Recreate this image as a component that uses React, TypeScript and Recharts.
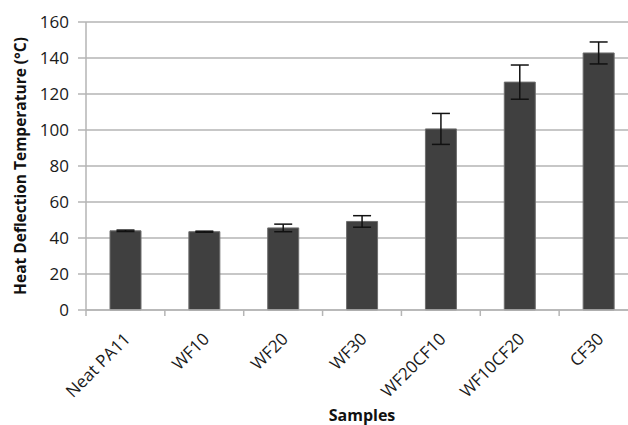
import React from 'react';
import { BarChart, Bar, XAxis, YAxis, CartesianGrid, ErrorBar } from 'recharts';

// Heat deflection temperature per sample, with standard deviation
const samples = ['Neat PA11', 'WF10', 'WF20', 'WF30', 'WF20CF10', 'WF10CF20', 'CF30'];
const hdt = [44, 43.5, 45.6, 49.2, 100.6, 126.6, 142.8];
const hdtError = [0.4, 0.3, 2.1, 3.2, 8.6, 9.5, 6.1];
const yTicks = [0, 20, 40, 60, 80, 100, 120, 140, 160];

const data = samples.map((name, i) => ({ name, hdt: hdt[i], err: hdtError[i] }));

const FONT = '"Open Sans", sans-serif';
const GRID = '#b5b5b5';

const SampleTick = (props: any) => {
  const { x, y, payload, index, width, visibleTicksCount } = props;
  const band = width / visibleTicksCount;
  return (
    <g transform={`translate(${x},${y})`}>
      <line x1={-band / 2} y1={0} x2={-band / 2} y2={6} stroke={GRID} strokeWidth={1.5} />
      {index === visibleTicksCount - 1 && (
        <line x1={band / 2} y1={0} x2={band / 2} y2={6} stroke={GRID} strokeWidth={1.5} />
      )}
      <text
        x={0}
        y={0}
        transform="translate(6,30) rotate(-45)"
        textAnchor="end"
        fontFamily={FONT}
        fontSize={17}
        fill="#1a1a1a"
      >
        {payload.value}
      </text>
    </g>
  );
};

const YTitle = (props: any) => {
  const { viewBox } = props;
  const cx = viewBox.x + 20;
  const cy = viewBox.y + viewBox.height / 2;
  return (
    <text
      transform={`translate(${cx},${cy}) rotate(-90)`}
      textAnchor="middle"
      dominantBaseline="central"
      fontFamily={FONT}
      fontWeight="bold"
      fontSize={15.5}
      fill="#111"
    >
      Heat Deflection Temperature (°C)
    </text>
  );
};

export default function App() {
  return (
    <div style={{ position: 'fixed', left: 0, top: 0, width: 628, height: 425, overflow: 'hidden', background: '#fff' }}>
      <BarChart
        width={640}
        height={425}
        data={data}
        margin={{ top: 22, right: 2, bottom: 0, left: 0 }}
      >
        <CartesianGrid vertical={false} stroke={GRID} strokeWidth={1.5} />
        <XAxis
          dataKey="name"
          height={115}
          axisLine={{ stroke: GRID, strokeWidth: 1.5 }}
          tickLine={false}
          tickSize={0}
          tickMargin={0}
          interval={0}
          tick={<SampleTick />}
          label={{
            value: 'Samples',
            position: 'insideBottom',
            offset: 4,
            fontFamily: FONT,
            fontWeight: 'bold',
            fontSize: 16,
            fill: '#111',
          }}
        />
        <YAxis
          width={86}
          domain={[0, 160]}
          ticks={yTicks}
          axisLine={{ stroke: GRID, strokeWidth: 1.5 }}
          tickLine={{ stroke: GRID, strokeWidth: 1.5 }}
          tickSize={8}
          tickMargin={9}
          tick={{ fontFamily: FONT, fontSize: 17, fill: '#1a1a1a' }}
          label={<YTitle />}
        />
        <Bar dataKey="hdt" fill="#404040" stroke="#6e6e6e" strokeWidth={1} barSize={31} isAnimationActive={false}>
          <ErrorBar dataKey="err" direction="y" width={9} stroke="#111" strokeWidth={1.5} />
        </Bar>
      </BarChart>
    </div>
  );
}
